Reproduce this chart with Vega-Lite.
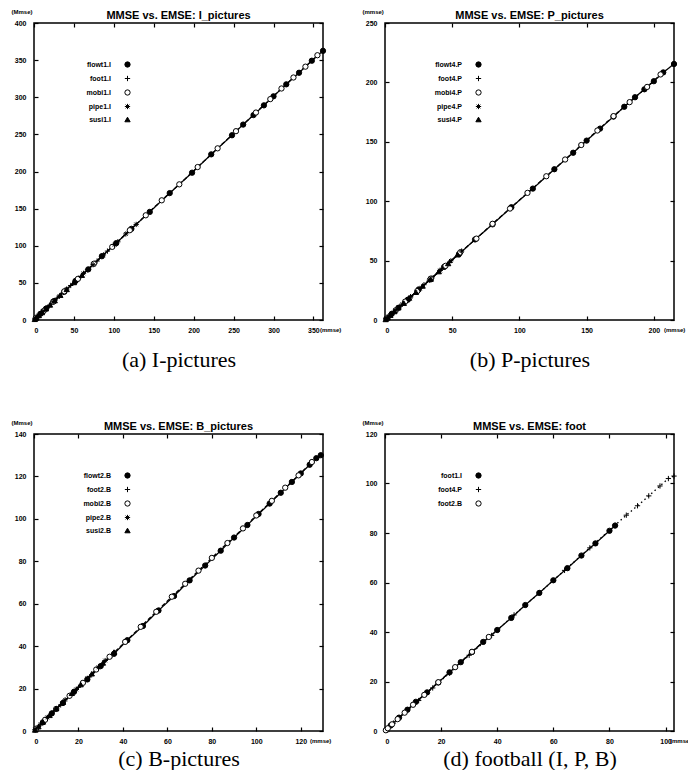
{
"$schema": "https://vega.github.io/schema/vega-lite/v6.json",
"background": "white",
"padding": {"left": 10, "top": 7, "right": 0, "bottom": 0},
"bounds": "flush",
"columns": 2,
"spacing": {"row": 114, "column": 62},
"resolve": {"scale": {"shape": "independent", "fill": "independent", "stroke": "independent", "strokeDash": "independent"}, "legend": {"shape": "independent", "fill": "independent", "stroke": "independent", "strokeDash": "independent"}},
"config": {
 "view": {"stroke": "black", "strokeWidth": 1.5},
 "font": "Liberation Sans",
 "axis": {"grid": false, "domain": false, "tickSize": -4, "tickColor": "black", "tickWidth": 1.2, "labelFontSize": 7, "labelFontWeight": "bold", "labelColor": "black", "labelFont": "Liberation Sans", "titleColor": "black"},
 "title": {"fontSize": 11, "fontWeight": "bold", "offset": -13, "color": "black", "font": "Liberation Sans", "anchor": "middle", "frame": "group"},
 "legend": {"title": null, "orient": "none", "legendX": 90, "legendY": 38, "labelAlign": "right", "labelOffset": -20, "labelFontSize": 7, "labelFontWeight": "bold", "labelColor": "black", "rowPadding": 3, "symbolSize": 28, "symbolStrokeWidth": 1, "padding": 0}
},
"datasets": {
 "a": [
  {"s":"flowt1.I","x":2,"y":2},{"s":"flowt1.I","x":8,"y":8.3},{"s":"flowt1.I","x":15,"y":15.2},{"s":"flowt1.I","x":25,"y":25.4},{"s":"flowt1.I","x":38,"y":38.1},{"s":"flowt1.I","x":52,"y":52.6},{"s":"flowt1.I","x":68,"y":68.2},{"s":"flowt1.I","x":85,"y":85.9},{"s":"flowt1.I","x":103,"y":103.5},{"s":"flowt1.I","x":122,"y":122.8},{"s":"flowt1.I","x":145,"y":145.6},{"s":"flowt1.I","x":170,"y":170.9},{"s":"flowt1.I","x":198,"y":198.4},{"s":"flowt1.I","x":222,"y":223.1},{"s":"flowt1.I","x":248,"y":248.8},{"s":"flowt1.I","x":262,"y":263.2},{"s":"flowt1.I","x":275,"y":276},{"s":"flowt1.I","x":288,"y":289.1},{"s":"flowt1.I","x":300,"y":301.3},{"s":"flowt1.I","x":316,"y":317.4},{"s":"flowt1.I","x":332,"y":333},{"s":"flowt1.I","x":348,"y":349.2},{"s":"flowt1.I","x":362,"y":362.5},
  {"s":"foot1.I","x":1,"y":1.1},{"s":"foot1.I","x":4,"y":4.2},{"s":"foot1.I","x":7,"y":7.3},{"s":"foot1.I","x":11,"y":11.2},{"s":"foot1.I","x":16,"y":16.4},{"s":"foot1.I","x":22,"y":22.3},{"s":"foot1.I","x":29,"y":29.5},{"s":"foot1.I","x":37,"y":37.2},{"s":"foot1.I","x":46,"y":46.5},{"s":"foot1.I","x":56,"y":56.3},{"s":"foot1.I","x":67,"y":67.6},{"s":"foot1.I","x":79,"y":79.4},{"s":"foot1.I","x":92,"y":92.8},{"s":"foot1.I","x":105,"y":105.3},
  {"s":"mobi1.I","x":3,"y":3.2},{"s":"mobi1.I","x":12,"y":12.1},{"s":"mobi1.I","x":24,"y":24.5},{"s":"mobi1.I","x":38,"y":38.6},{"s":"mobi1.I","x":55,"y":55.4},{"s":"mobi1.I","x":75,"y":75.8},{"s":"mobi1.I","x":98,"y":98.5},{"s":"mobi1.I","x":120,"y":120.9},{"s":"mobi1.I","x":140,"y":141},{"s":"mobi1.I","x":160,"y":161.2},{"s":"mobi1.I","x":182,"y":182.7},{"s":"mobi1.I","x":205,"y":206},{"s":"mobi1.I","x":230,"y":231.2},{"s":"mobi1.I","x":253,"y":254.3},{"s":"mobi1.I","x":278,"y":279.4},{"s":"mobi1.I","x":296,"y":297.5},{"s":"mobi1.I","x":310,"y":311.8},{"s":"mobi1.I","x":325,"y":326.6},{"s":"mobi1.I","x":340,"y":341.2},{"s":"mobi1.I","x":355,"y":356.6},
  {"s":"pipe1.I","x":2,"y":1.9},{"s":"pipe1.I","x":6,"y":6.1},{"s":"pipe1.I","x":11,"y":11.3},{"s":"pipe1.I","x":17,"y":17.2},{"s":"pipe1.I","x":24,"y":24.6},{"s":"pipe1.I","x":32,"y":32.3},{"s":"pipe1.I","x":41,"y":41.7},{"s":"pipe1.I","x":51,"y":51.3},{"s":"pipe1.I","x":62,"y":62.8},{"s":"pipe1.I","x":74,"y":74.5},{"s":"pipe1.I","x":87,"y":87.6},{"s":"pipe1.I","x":101,"y":101.4},{"s":"pipe1.I","x":115,"y":115.9},{"s":"pipe1.I","x":128,"y":128.7},
  {"s":"susi1.I","x":1,"y":1},{"s":"susi1.I","x":3,"y":3.1},{"s":"susi1.I","x":6,"y":6.2},{"s":"susi1.I","x":10,"y":10.1},{"s":"susi1.I","x":15,"y":15.3},{"s":"susi1.I","x":20,"y":20.4},{"s":"susi1.I","x":26,"y":26.2},{"s":"susi1.I","x":33,"y":33.5},{"s":"susi1.I","x":41,"y":41.3},{"s":"susi1.I","x":50,"y":50.6},{"s":"susi1.I","x":60,"y":60.4}
 ],
 "b": [
  {"s":"flowt4.P","x":1,"y":1},{"s":"flowt4.P","x":5,"y":5.2},{"s":"flowt4.P","x":10,"y":10.3},{"s":"flowt4.P","x":17,"y":17.1},{"s":"flowt4.P","x":25,"y":25.6},{"s":"flowt4.P","x":34,"y":34.2},{"s":"flowt4.P","x":44,"y":44.7},{"s":"flowt4.P","x":55,"y":55.4},{"s":"flowt4.P","x":67,"y":67.8},{"s":"flowt4.P","x":80,"y":80.5},{"s":"flowt4.P","x":94,"y":94.9},{"s":"flowt4.P","x":110,"y":110.6},{"s":"flowt4.P","x":126,"y":126.9},{"s":"flowt4.P","x":140,"y":140.8},{"s":"flowt4.P","x":150,"y":151},{"s":"flowt4.P","x":160,"y":161.1},{"s":"flowt4.P","x":170,"y":171.2},{"s":"flowt4.P","x":178,"y":179.5},{"s":"flowt4.P","x":186,"y":187.5},{"s":"flowt4.P","x":193,"y":194.2},{"s":"flowt4.P","x":200,"y":201},{"s":"flowt4.P","x":207,"y":208.4},{"s":"flowt4.P","x":215,"y":215.5},
  {"s":"foot4.P","x":1,"y":1.1},{"s":"foot4.P","x":3,"y":3.2},{"s":"foot4.P","x":5,"y":5.4},{"s":"foot4.P","x":8,"y":8.3},{"s":"foot4.P","x":11,"y":11.5},{"s":"foot4.P","x":15,"y":15.4},{"s":"foot4.P","x":19,"y":19.6},{"s":"foot4.P","x":24,"y":24.3},{"s":"foot4.P","x":29,"y":29.7},{"s":"foot4.P","x":35,"y":35.4},{"s":"foot4.P","x":41,"y":41.8},{"s":"foot4.P","x":48,"y":48.4},
  {"s":"mobi4.P","x":2,"y":2.1},{"s":"mobi4.P","x":8,"y":8.2},{"s":"mobi4.P","x":15,"y":15.5},{"s":"mobi4.P","x":24,"y":24.3},{"s":"mobi4.P","x":34,"y":34.8},{"s":"mobi4.P","x":45,"y":45.6},{"s":"mobi4.P","x":56,"y":56.9},{"s":"mobi4.P","x":68,"y":68.5},{"s":"mobi4.P","x":80,"y":81},{"s":"mobi4.P","x":93,"y":93.8},{"s":"mobi4.P","x":106,"y":107},{"s":"mobi4.P","x":120,"y":121},{"s":"mobi4.P","x":134,"y":135.1},{"s":"mobi4.P","x":146,"y":147.3},{"s":"mobi4.P","x":158,"y":159.5},{"s":"mobi4.P","x":170,"y":171.6},{"s":"mobi4.P","x":182,"y":183.4},{"s":"mobi4.P","x":195,"y":196.2},{"s":"mobi4.P","x":205,"y":206.7},
  {"s":"pipe4.P","x":1,"y":1},{"s":"pipe4.P","x":4,"y":4.1},{"s":"pipe4.P","x":8,"y":8.2},{"s":"pipe4.P","x":13,"y":13.4},{"s":"pipe4.P","x":19,"y":19.3},{"s":"pipe4.P","x":26,"y":26.6},{"s":"pipe4.P","x":33,"y":33.5},{"s":"pipe4.P","x":41,"y":41.7},{"s":"pipe4.P","x":49,"y":49.8},{"s":"pipe4.P","x":57,"y":58},
  {"s":"susi4.P","x":0.5,"y":0.5},{"s":"susi4.P","x":2,"y":2.1},{"s":"susi4.P","x":4,"y":4.1},{"s":"susi4.P","x":7,"y":7.2},{"s":"susi4.P","x":10,"y":10.4},{"s":"susi4.P","x":14,"y":14.2},{"s":"susi4.P","x":18,"y":18.6},{"s":"susi4.P","x":23,"y":23.4},{"s":"susi4.P","x":28,"y":28.7},{"s":"susi4.P","x":34,"y":34.5},{"s":"susi4.P","x":40,"y":40.8},{"s":"susi4.P","x":47,"y":47.6},{"s":"susi4.P","x":54,"y":55}
 ],
 "c": [
  {"s":"flowt2.B","x":1,"y":1},{"s":"flowt2.B","x":4,"y":4.1},{"s":"flowt2.B","x":8,"y":8.3},{"s":"flowt2.B","x":13,"y":13.2},{"s":"flowt2.B","x":18,"y":18.5},{"s":"flowt2.B","x":24,"y":24.3},{"s":"flowt2.B","x":30,"y":30.6},{"s":"flowt2.B","x":36,"y":36.4},{"s":"flowt2.B","x":42,"y":42.8},{"s":"flowt2.B","x":49,"y":49.5},{"s":"flowt2.B","x":56,"y":56.8},{"s":"flowt2.B","x":63,"y":63.6},{"s":"flowt2.B","x":70,"y":71},{"s":"flowt2.B","x":77,"y":78},{"s":"flowt2.B","x":84,"y":85},{"s":"flowt2.B","x":90,"y":91.2},{"s":"flowt2.B","x":96,"y":97.1},{"s":"flowt2.B","x":101,"y":102.3},{"s":"flowt2.B","x":106,"y":107.2},{"s":"flowt2.B","x":111,"y":112.3},{"s":"flowt2.B","x":116,"y":117.4},{"s":"flowt2.B","x":120,"y":121.4},{"s":"flowt2.B","x":124,"y":125.5},{"s":"flowt2.B","x":127,"y":128.6},{"s":"flowt2.B","x":129,"y":130},
  {"s":"foot2.B","x":0.5,"y":0.5},{"s":"foot2.B","x":2,"y":2.1},{"s":"foot2.B","x":4,"y":4.2},{"s":"foot2.B","x":6,"y":6.3},{"s":"foot2.B","x":9,"y":9.4},{"s":"foot2.B","x":12,"y":12.3},{"s":"foot2.B","x":16,"y":16.5},{"s":"foot2.B","x":20,"y":20.6},{"s":"foot2.B","x":25,"y":25.5},{"s":"foot2.B","x":30,"y":30.8},{"s":"foot2.B","x":35,"y":35.6},
  {"s":"mobi2.B","x":1,"y":1.1},{"s":"mobi2.B","x":5,"y":5.3},{"s":"mobi2.B","x":10,"y":10.4},{"s":"mobi2.B","x":16,"y":16.6},{"s":"mobi2.B","x":22,"y":22.7},{"s":"mobi2.B","x":28,"y":29},{"s":"mobi2.B","x":34,"y":35},{"s":"mobi2.B","x":41,"y":42},{"s":"mobi2.B","x":48,"y":49.1},{"s":"mobi2.B","x":55,"y":56.2},{"s":"mobi2.B","x":62,"y":63.3},{"s":"mobi2.B","x":68,"y":69.4},{"s":"mobi2.B","x":74,"y":75.6},{"s":"mobi2.B","x":80,"y":81.6},{"s":"mobi2.B","x":87,"y":88.6},{"s":"mobi2.B","x":94,"y":95.5},{"s":"mobi2.B","x":100,"y":101.6},{"s":"mobi2.B","x":107,"y":108.5},{"s":"mobi2.B","x":113,"y":114.7},{"s":"mobi2.B","x":119,"y":120.5},{"s":"mobi2.B","x":125,"y":126.8},
  {"s":"pipe2.B","x":0.5,"y":0.6},{"s":"pipe2.B","x":3,"y":3.2},{"s":"pipe2.B","x":6,"y":6.4},{"s":"pipe2.B","x":10,"y":10.5},{"s":"pipe2.B","x":14,"y":14.7},{"s":"pipe2.B","x":19,"y":19.6},{"s":"pipe2.B","x":24,"y":24.8},{"s":"pipe2.B","x":29,"y":30},{"s":"pipe2.B","x":32,"y":33.2},
  {"s":"susi2.B","x":0.5,"y":0.5},{"s":"susi2.B","x":2,"y":2.1},{"s":"susi2.B","x":4,"y":4.3},{"s":"susi2.B","x":7,"y":7.4},{"s":"susi2.B","x":10,"y":10.6},{"s":"susi2.B","x":13,"y":13.6},{"s":"susi2.B","x":17,"y":17.8},{"s":"susi2.B","x":21,"y":21.9},{"s":"susi2.B","x":26,"y":27},{"s":"susi2.B","x":31,"y":32.1},{"s":"susi2.B","x":36,"y":37.2}
 ],
 "d": [
  {"s":"foot1.I","x":0.5,"y":0.5},{"s":"foot1.I","x":2,"y":2.2},{"s":"foot1.I","x":5,"y":5.4},{"s":"foot1.I","x":8,"y":8.6},{"s":"foot1.I","x":11,"y":11.8},{"s":"foot1.I","x":15,"y":15.6},{"s":"foot1.I","x":19,"y":19.6},{"s":"foot1.I","x":23,"y":23.7},{"s":"foot1.I","x":27,"y":27.8},{"s":"foot1.I","x":31,"y":31.9},{"s":"foot1.I","x":35,"y":36},{"s":"foot1.I","x":40,"y":40.8},{"s":"foot1.I","x":45,"y":45.7},{"s":"foot1.I","x":50,"y":50.9},{"s":"foot1.I","x":55,"y":55.8},{"s":"foot1.I","x":60,"y":60.9},{"s":"foot1.I","x":65,"y":65.8},{"s":"foot1.I","x":70,"y":70.9},{"s":"foot1.I","x":75,"y":75.8},{"s":"foot1.I","x":80,"y":80.9},{"s":"foot1.I","x":82,"y":83},
  {"s":"foot4.P","x":0.3,"y":0.3},{"s":"foot4.P","x":1.5,"y":1.6},{"s":"foot4.P","x":3,"y":3.2},{"s":"foot4.P","x":5,"y":5.2},{"s":"foot4.P","x":8,"y":8.3},{"s":"foot4.P","x":12,"y":12.3},{"s":"foot4.P","x":17,"y":17.4},{"s":"foot4.P","x":23,"y":23.4},{"s":"foot4.P","x":30,"y":30.6},{"s":"foot4.P","x":38,"y":38.6},{"s":"foot4.P","x":46,"y":46.9},{"s":"foot4.P","x":55,"y":55.8},{"s":"foot4.P","x":64,"y":64.9},{"s":"foot4.P","x":73,"y":74},{"s":"foot4.P","x":82,"y":83.1},{"s":"foot4.P","x":86,"y":87.2},{"s":"foot4.P","x":90,"y":91},{"s":"foot4.P","x":94,"y":95},{"s":"foot4.P","x":98,"y":99},{"s":"foot4.P","x":101,"y":102},{"s":"foot4.P","x":103,"y":103},
  {"s":"foot2.B","x":0.3,"y":0.3},{"s":"foot2.B","x":1,"y":1.1},{"s":"foot2.B","x":2.5,"y":2.7},{"s":"foot2.B","x":4.5,"y":4.8},{"s":"foot2.B","x":7,"y":7.4},{"s":"foot2.B","x":10,"y":10.6},{"s":"foot2.B","x":14,"y":14.6},{"s":"foot2.B","x":19,"y":19.7},{"s":"foot2.B","x":25,"y":25.8},{"s":"foot2.B","x":31,"y":32},{"s":"foot2.B","x":37,"y":38}
 ]
},
"concat": [
  {"width": 289, "height": 297, "title": "MMSE vs. EMSE: I_pictures", "data": {"name": "a"},
   "resolve": {"scale": {"x": "independent", "y": "independent"}, "axis": {"x": "independent", "y": "independent"}},
   "layer": [
    {"mark": {"type": "line", "color": "black", "strokeWidth": 1.3},
     "encoding": {
      "x": {"field": "x", "type": "quantitative", "scale": {"domain": [0, 362], "nice": false}, "axis": {"orient": "top", "labels": false, "title": null, "values": [0,50,100,150,200,250,300,350]}},
      "y": {"field": "y", "type": "quantitative", "scale": {"domain": [0, 400], "nice": false}, "axis": {"orient": "right", "labels": false, "title": null, "values": [0,50,100,150,200,250,300,350,400]}},
      "strokeDash": {"field": "s", "type": "nominal", "scale": {"range": [[1,0],[1.5,3],[4,2.5],[4,2.5],[5,3]]}, "legend": null}}},
    {"mark": {"type": "point", "filled": true, "strokeWidth": 1, "size": 28, "opacity": 1},
     "encoding": {
      "x": {"field": "x", "type": "quantitative", "scale": {"domain": [0, 362], "nice": false}, "axis": {"orient": "bottom", "values": [0,50,100,150,200,250,300,350], "labelPadding": 10, "title": "(a) I-pictures", "titleFont": "Liberation Serif", "titleFontSize": 22, "titleFontWeight": "normal", "titlePadding": 16}},
      "y": {"field": "y", "type": "quantitative", "scale": {"domain": [0, 400], "nice": false}, "axis": {"orient": "left", "values": [0,50,100,150,200,250,300,350,400], "labelPadding": 12, "title": "(Mmse)", "titleAngle": 0, "titleAlign": "left", "titleBaseline": "middle", "titleX": -23, "titleY": -12, "titleFontSize": 6, "titleFontWeight": "bold"}},
      "shape": {"field": "s", "type": "nominal", "scale": {"domain": ["flowt1.I","foot1.I","mobi1.I","pipe1.I","susi1.I"], "range": ["circle","M-1,0L1,0M0,-1L0,1","circle","M-1,0L1,0M0,-1L0,1M-0.7,-0.7L0.7,0.7M-0.7,0.7L0.7,-0.7","triangle-up"]}, "legend": {"title": null}},
      "fill": {"field": "s", "type": "nominal", "scale": {"domain": ["flowt1.I","foot1.I","mobi1.I","pipe1.I","susi1.I"], "range": ["black","black","white","black","black"]}, "legend": {"title": null}},
      "stroke": {"field": "s", "type": "nominal", "scale": {"domain": ["flowt1.I","foot1.I","mobi1.I","pipe1.I","susi1.I"], "range": ["black","black","black","black","black"]}, "legend": {"title": null}}}},
    {"data": {"values": [{}]},
     "mark": {"type": "text", "text": "(mmse)", "fontSize": 6, "fontWeight": "bold", "align": "left", "baseline": "middle", "dx": -3, "dy": 10},
     "encoding": {"x": {"datum": 362, "type": "quantitative", "scale": {"domain": [0, 362], "nice": false}, "axis": null}, "y": {"datum": 0, "type": "quantitative", "scale": {"domain": [0, 400], "nice": false}, "axis": null}}}
   ]},
  {"width": 289, "height": 297, "title": "MMSE vs. EMSE: P_pictures", "data": {"name": "b"},
   "resolve": {"scale": {"x": "independent", "y": "independent"}, "axis": {"x": "independent", "y": "independent"}},
   "layer": [
    {"mark": {"type": "line", "color": "black", "strokeWidth": 1.3},
     "encoding": {
      "x": {"field": "x", "type": "quantitative", "scale": {"domain": [0, 215], "nice": false}, "axis": {"orient": "top", "labels": false, "title": null, "values": [0,50,100,150,200]}},
      "y": {"field": "y", "type": "quantitative", "scale": {"domain": [0, 250], "nice": false}, "axis": {"orient": "right", "labels": false, "title": null, "values": [0,50,100,150,200,250]}},
      "strokeDash": {"field": "s", "type": "nominal", "scale": {"range": [[1,0],[1.5,3],[4,2.5],[4,2.5],[5,3]]}, "legend": null}}},
    {"mark": {"type": "point", "filled": true, "strokeWidth": 1, "size": 28, "opacity": 1},
     "encoding": {
      "x": {"field": "x", "type": "quantitative", "scale": {"domain": [0, 215], "nice": false}, "axis": {"orient": "bottom", "values": [0,50,100,150,200], "labelPadding": 10, "title": "(b) P-pictures", "titleFont": "Liberation Serif", "titleFontSize": 22, "titleFontWeight": "normal", "titlePadding": 16}},
      "y": {"field": "y", "type": "quantitative", "scale": {"domain": [0, 250], "nice": false}, "axis": {"orient": "left", "values": [0,50,100,150,200,250], "labelPadding": 12, "title": "(mmse)", "titleAngle": 0, "titleAlign": "left", "titleBaseline": "middle", "titleX": -23, "titleY": -12, "titleFontSize": 6, "titleFontWeight": "bold"}},
      "shape": {"field": "s", "type": "nominal", "scale": {"domain": ["flowt4.P","foot4.P","mobi4.P","pipe4.P","susi4.P"], "range": ["circle","M-1,0L1,0M0,-1L0,1","circle","M-1,0L1,0M0,-1L0,1M-0.7,-0.7L0.7,0.7M-0.7,0.7L0.7,-0.7","triangle-up"]}, "legend": {"title": null}},
      "fill": {"field": "s", "type": "nominal", "scale": {"domain": ["flowt4.P","foot4.P","mobi4.P","pipe4.P","susi4.P"], "range": ["black","black","white","black","black"]}, "legend": {"title": null}},
      "stroke": {"field": "s", "type": "nominal", "scale": {"domain": ["flowt4.P","foot4.P","mobi4.P","pipe4.P","susi4.P"], "range": ["black","black","black","black","black"]}, "legend": {"title": null}}}},
    {"data": {"values": [{}]},
     "mark": {"type": "text", "text": "(mmse)", "fontSize": 6, "fontWeight": "bold", "align": "left", "baseline": "middle", "dx": -10, "dy": 10},
     "encoding": {"x": {"datum": 215, "type": "quantitative", "scale": {"domain": [0, 215], "nice": false}, "axis": null}, "y": {"datum": 0, "type": "quantitative", "scale": {"domain": [0, 250], "nice": false}, "axis": null}}}
   ]},
  {"width": 289, "height": 297, "title": "MMSE vs. EMSE: B_pictures", "data": {"name": "c"},
   "resolve": {"scale": {"x": "independent", "y": "independent"}, "axis": {"x": "independent", "y": "independent"}},
   "layer": [
    {"mark": {"type": "line", "color": "black", "strokeWidth": 1.3},
     "encoding": {
      "x": {"field": "x", "type": "quantitative", "scale": {"domain": [0, 130], "nice": false}, "axis": {"orient": "top", "labels": false, "title": null, "values": [0,20,40,60,80,100,120]}},
      "y": {"field": "y", "type": "quantitative", "scale": {"domain": [0, 140], "nice": false}, "axis": {"orient": "right", "labels": false, "title": null, "values": [0,20,40,60,80,100,120,140]}},
      "strokeDash": {"field": "s", "type": "nominal", "scale": {"range": [[1,0],[1.5,3],[4,2.5],[4,2.5],[5,3]]}, "legend": null}}},
    {"mark": {"type": "point", "filled": true, "strokeWidth": 1, "size": 28, "opacity": 1},
     "encoding": {
      "x": {"field": "x", "type": "quantitative", "scale": {"domain": [0, 130], "nice": false}, "axis": {"orient": "bottom", "values": [0,20,40,60,80,100,120], "labelPadding": 10, "title": "(c) B-pictures", "titleFont": "Liberation Serif", "titleFontSize": 22, "titleFontWeight": "normal", "titlePadding": 4}},
      "y": {"field": "y", "type": "quantitative", "scale": {"domain": [0, 140], "nice": false}, "axis": {"orient": "left", "values": [0,20,40,60,80,100,120,140], "labelPadding": 12, "title": "(Mmse)", "titleAngle": 0, "titleAlign": "left", "titleBaseline": "middle", "titleX": -23, "titleY": -12, "titleFontSize": 6, "titleFontWeight": "bold"}},
      "shape": {"field": "s", "type": "nominal", "scale": {"domain": ["flowt2.B","foot2.B","mobi2.B","pipe2.B","susi2.B"], "range": ["circle","M-1,0L1,0M0,-1L0,1","circle","M-1,0L1,0M0,-1L0,1M-0.7,-0.7L0.7,0.7M-0.7,0.7L0.7,-0.7","triangle-up"]}, "legend": {"title": null}},
      "fill": {"field": "s", "type": "nominal", "scale": {"domain": ["flowt2.B","foot2.B","mobi2.B","pipe2.B","susi2.B"], "range": ["black","black","white","black","black"]}, "legend": {"title": null}},
      "stroke": {"field": "s", "type": "nominal", "scale": {"domain": ["flowt2.B","foot2.B","mobi2.B","pipe2.B","susi2.B"], "range": ["black","black","black","black","black"]}, "legend": {"title": null}}}},
    {"data": {"values": [{}]},
     "mark": {"type": "text", "text": "(mmse)", "fontSize": 6, "fontWeight": "bold", "align": "left", "baseline": "middle", "dx": -13, "dy": 10},
     "encoding": {"x": {"datum": 130, "type": "quantitative", "scale": {"domain": [0, 130], "nice": false}, "axis": null}, "y": {"datum": 0, "type": "quantitative", "scale": {"domain": [0, 140], "nice": false}, "axis": null}}}
   ]},
  {"width": 289, "height": 297, "title": "MMSE vs. EMSE: foot", "data": {"name": "d"},
   "resolve": {"scale": {"x": "independent", "y": "independent"}, "axis": {"x": "independent", "y": "independent"}},
   "layer": [
    {"mark": {"type": "line", "color": "black", "strokeWidth": 1.3},
     "encoding": {
      "x": {"field": "x", "type": "quantitative", "scale": {"domain": [0, 103], "nice": false}, "axis": {"orient": "top", "labels": false, "title": null, "values": [0,20,40,60,80,100]}},
      "y": {"field": "y", "type": "quantitative", "scale": {"domain": [0, 120], "nice": false}, "axis": {"orient": "right", "labels": false, "title": null, "values": [0,20,40,60,80,100,120]}},
      "strokeDash": {"field": "s", "type": "nominal", "scale": {"range": [[1,0],[4,2.5],[1.5,3]]}, "legend": null}}},
    {"mark": {"type": "point", "filled": true, "strokeWidth": 1, "size": 28, "opacity": 1},
     "encoding": {
      "x": {"field": "x", "type": "quantitative", "scale": {"domain": [0, 103], "nice": false}, "axis": {"orient": "bottom", "values": [0,20,40,60,80,100], "labelPadding": 10, "title": "(d) football (I, P, B)", "titleFont": "Liberation Serif", "titleFontSize": 22, "titleFontWeight": "normal", "titlePadding": 4}},
      "y": {"field": "y", "type": "quantitative", "scale": {"domain": [0, 120], "nice": false}, "axis": {"orient": "left", "values": [0,20,40,60,80,100,120], "labelPadding": 12, "title": "(Mmse)", "titleAngle": 0, "titleAlign": "left", "titleBaseline": "middle", "titleX": -23, "titleY": -12, "titleFontSize": 6, "titleFontWeight": "bold"}},
      "shape": {"field": "s", "type": "nominal", "scale": {"domain": ["foot1.I","foot4.P","foot2.B"], "range": ["circle","M-1,0L1,0M0,-1L0,1","circle"]}, "legend": {"title": null}},
      "fill": {"field": "s", "type": "nominal", "scale": {"domain": ["foot1.I","foot4.P","foot2.B"], "range": ["black","black","white"]}, "legend": {"title": null}},
      "stroke": {"field": "s", "type": "nominal", "scale": {"domain": ["foot1.I","foot4.P","foot2.B"], "range": ["black","black","black"]}, "legend": {"title": null}}}},
    {"data": {"values": [{}]},
     "mark": {"type": "text", "text": "(mmse)", "fontSize": 6, "fontWeight": "bold", "align": "left", "baseline": "middle", "dx": -4, "dy": 10},
     "encoding": {"x": {"datum": 103, "type": "quantitative", "scale": {"domain": [0, 103], "nice": false}, "axis": null}, "y": {"datum": 0, "type": "quantitative", "scale": {"domain": [0, 120], "nice": false}, "axis": null}}}
   ]}
]
}
